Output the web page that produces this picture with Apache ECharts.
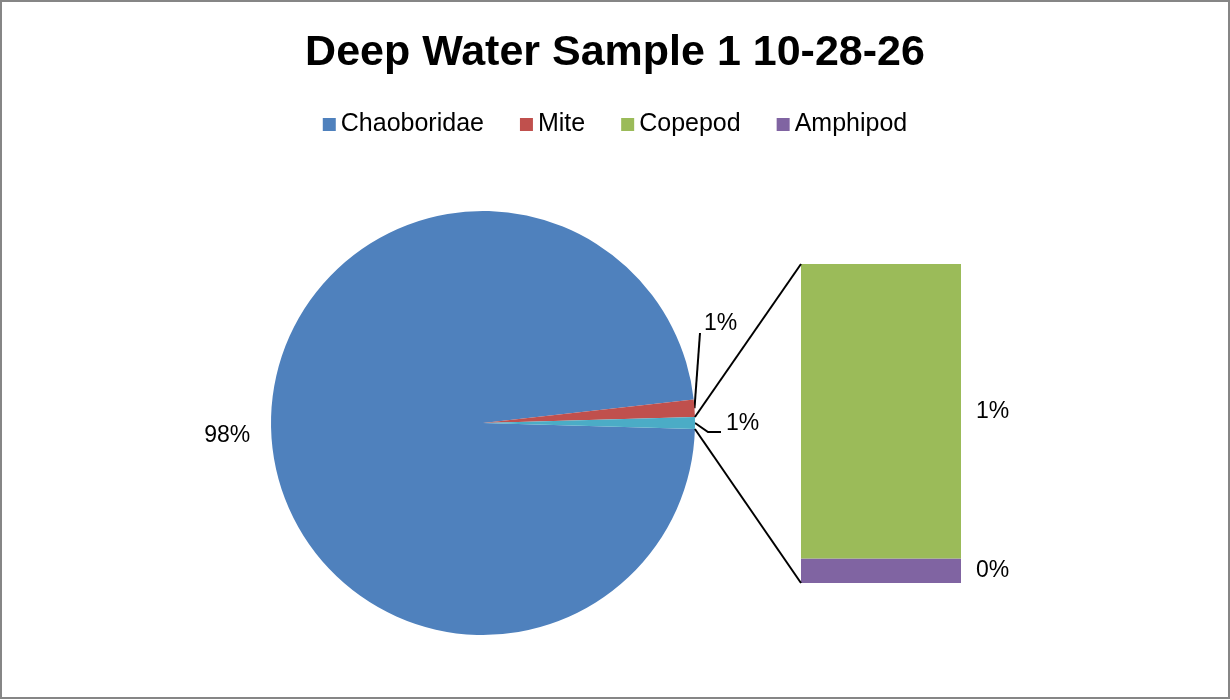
<!DOCTYPE html>
<html><head><meta charset="utf-8">
<script src="https://cdn.jsdelivr.net/npm/echarts@6/dist/echarts.min.js"></script>
<style>html,body{margin:0;padding:0;background:#fff}#c{width:1230px;height:700px}</style>
</head><body><div id="c"></div>
<script>
// ---- data ----
const titleText = 'Deep Water Sample 1 10-28-26';
const legendNames = ['Chaoboridae', 'Mite', 'Copepod', 'Amphipod'];
const pieNames = ['Chaoboridae', 'Mite', 'Other'];
const barNames = ['Copepod', 'Amphipod'];
const chaoboridaeCount = 1408;
const miteCount = 19;
const copepodCount = 12;
const amphipodCount = 1;

// ---- derived ----
const pieValues = [chaoboridaeCount, miteCount, copepodCount + amphipodCount];
const barValues = [copepodCount, amphipodCount];
const total = pieValues.reduce((a, b) => a + b, 0);
const pct = v => Math.round(v / total * 100) + '%';

// ---- layout / style ----
const CX = 483, CY = 423, R = 212;
const GRID = { left: 801, top: 264, width: 160, height: 319 };
const FONT = '"Liberation Sans", Arial, sans-serif';
const pieColors = ['#4F81BD', '#C0504D', '#4BACC6'];
const barColors = { Copepod: '#9BBB59', Amphipod: '#8064A2' };

const otherDeg = pieValues[2] / total * 360;
const startAngle = -otherDeg / 2;
function pt(angDeg, rad) { const a = angDeg * Math.PI / 180; return [CX + rad * Math.cos(a), CY - rad * Math.sin(a)]; }
const bounds = []; { let a = startAngle; pieValues.forEach(v => { const d = v / total * 360; bounds.push([a, a - d]); a -= d; }); }
const mid = i => (bounds[i][0] + bounds[i][1]) / 2;

const chart = echarts.init(document.getElementById('c'), null, { renderer: 'canvas' });

const pieData = pieNames.map((n, i) => ({
  name: n, value: pieValues[i],
  itemStyle: { color: pieColors[i] },
  labelLine: { show: i !== 0 }
}));

const barSeries = [barNames[1], barNames[0]].map(n => ({
  type: 'bar', name: n, stack: 'other',
  data: [barValues[barNames.indexOf(n)]],
  barWidth: '100%',
  itemStyle: { color: barColors[n] },
  label: { show: true, position: 'right', distance: 15, color: '#000', fontSize: 23, fontFamily: FONT,
           formatter: p => pct(p.value) },
  emphasis: { disabled: true }
}));

const upper = pt(bounds[2][0], R), lower = pt(bounds[2][1], R);

chart.setOption({
  animation: false,
  backgroundColor: '#fff',
  title: { text: titleText, left: 'center', top: 27,
           textStyle: { fontSize: 43, fontWeight: 'bold', fontFamily: FONT, color: '#000' } },
  legend: { data: legendNames, top: 107, left: 'center', icon: 'rect', itemWidth: 13, itemHeight: 13, itemGap: 36,
            textStyle: { fontSize: 25, fontFamily: FONT, color: '#000' } },
  grid: { left: GRID.left, top: GRID.top, width: GRID.width, height: GRID.height },
  xAxis: { type: 'category', data: ['Other'], show: false },
  yAxis: { type: 'value', min: 0, max: copepodCount + amphipodCount, show: false },
  graphic: [
    { type: 'rect', shape: { x: 1, y: 1, width: 1228, height: 697 }, style: { fill: 'none', stroke: '#868686', lineWidth: 2 }, z: 100 },
    { type: 'line', shape: { x1: upper[0], y1: upper[1], x2: GRID.left, y2: GRID.top }, style: { stroke: '#000', lineWidth: 2 }, z: 50 },
    { type: 'line', shape: { x1: lower[0], y1: lower[1], x2: GRID.left, y2: GRID.top + GRID.height }, style: { stroke: '#000', lineWidth: 2 }, z: 50 }
  ],
  series: [
    {
      type: 'pie', center: [CX, CY], radius: R, startAngle: startAngle, clockwise: true,
      avoidLabelOverlap: false, data: pieData,
      label: { show: true, position: 'outside', color: '#000', fontSize: 23, fontFamily: FONT,
               formatter: p => pct(p.value) },
      labelLine: { show: true, length: 10, length2: 10, lineStyle: { color: '#000', width: 2 } },
      labelLayout: function (p) {
        const i = p.dataIndex;
        if (i === 0) { const q = pt(mid(0), R + 21); return { x: q[0], y: q[1] + 3, align: 'right', verticalAlign: 'middle' }; }
        if (i === 1) {
          const q0 = pt(mid(1), R); const lx = CX + R + 9, ly = CY - 99;
          return { x: lx, y: ly, align: 'left', verticalAlign: 'middle', labelLinePoints: [q0, [lx - 4, ly + 9], [lx - 4, ly + 9]] };
        }
        const q0 = pt(mid(2), R); const lx = CX + R + 31, ly = CY + 1;
        return { x: lx, y: ly, align: 'left', verticalAlign: 'middle', labelLinePoints: [q0, [CX + R + 13, CY + 9], [CX + R + 26, CY + 9]] };
      },
      emphasis: { disabled: true }
    },
    ...barSeries
  ]
});
</script></body></html>
